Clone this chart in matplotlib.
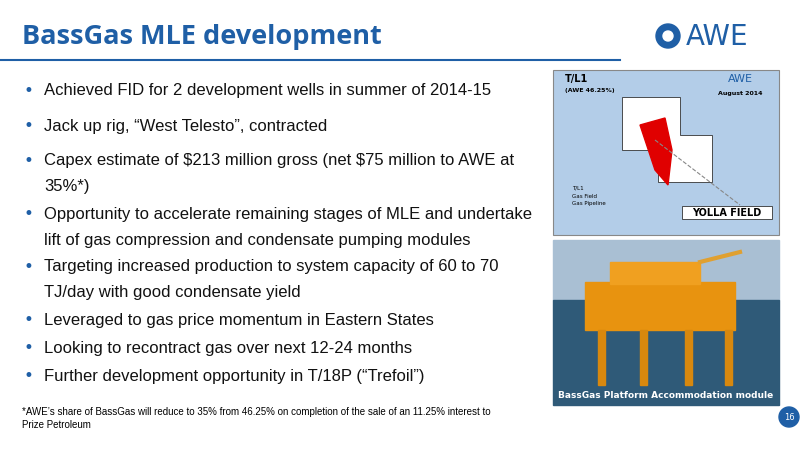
import matplotlib
matplotlib.use("Agg")
import matplotlib.pyplot as plt
from matplotlib.patches import Rectangle, Polygon, Circle

plt.rcParams["text.parse_math"] = False
title = "BassGas MLE development"
bullets = [
    ["Achieved FID for 2 development wells in summer of 2014-15"],
    ["Jack up rig, “West Telesto”, contracted"],
    ["Capex estimate of $213 million gross (net $75 million to AWE at", "35%*)"],
    ["Opportunity to accelerate remaining stages of MLE and undertake", "lift of gas compression and condensate pumping modules"],
    ["Targeting increased production to system capacity of 60 to 70", "TJ/day with good condensate yield"],
    ["Leveraged to gas price momentum in Eastern States"],
    ["Looking to recontract gas over next 12-24 months"],
    ["Further development opportunity in T/18P (“Trefoil”)"],
]
bullet_y = [91, 126, 161, 214, 267, 320, 348, 376]
footnote = ["*AWE’s share of BassGas will reduce to 35% from 46.25% on completion of the sale of an 11.25% interest to",
            "Prize Petroleum"]
page = "16"
blue = "#1f5fa6"

fig = plt.figure(figsize=(8, 4.5), dpi=100)
ax = fig.add_axes([0, 0, 1, 1])
ax.set_xlim(0, 800); ax.set_ylim(450, 0); ax.axis("off")

ax.text(22, 37, title, color=blue, fontsize=19.5, fontweight="bold", va="center", family="Open Sans")
ax.plot([0, 620], [60, 60], color=blue, lw=1.5)
ax.add_patch(Circle((668, 36), 12, color=blue))
ax.add_patch(Circle((668, 36), 5, color="white"))
ax.text(686, 37, "AWE", color=blue, fontsize=20, va="center")

for lines, y in zip(bullets, bullet_y):
    ax.text(24, y, "•", color=blue, fontsize=12, va="center")
    for i, l in enumerate(lines):
        ax.text(44, y + i * 26, l, fontsize=12, va="center", color="#111111", family="Liberation Sans")

for i, l in enumerate(footnote):
    ax.text(22, 412 + i * 13, l, fontsize=7, va="center", family="Liberation Sans")
ax.add_patch(Circle((789, 417), 10, color=blue))
ax.text(789, 417, page, color="white", fontsize=6, ha="center", va="center")

# map panel
ax.add_patch(Rectangle((553, 70), 226, 165, facecolor="#b3cde8", edgecolor="#888888", lw=0.8))
ax.add_patch(Polygon([[622, 97], [680, 97], [680, 135], [712, 135], [712, 182], [658, 182], [658, 150], [622, 150]],
                     facecolor="white", edgecolor="#333333", lw=0.6))
ax.add_patch(Polygon([[640, 125], [665, 118], [672, 150], [668, 185], [655, 170], [645, 140]], color="#e00000"))
ax.plot([655, 740], [140, 205], ls="--", color="#888888", lw=0.8)
ax.text(565, 82, "T/L1", fontsize=7, fontweight="bold")
ax.text(565, 92, "(AWE 46.25%)", fontsize=4.5, fontweight="bold")
ax.text(740, 95, "August 2014", fontsize=4.5, fontweight="bold", ha="center")
ax.text(740, 82, "AWE", fontsize=8, color=blue, ha="center")
ax.add_patch(Rectangle((682, 206), 90, 13, facecolor="white", edgecolor="#333333", lw=0.6))
ax.text(727, 212.5, "YOLLA FIELD", fontsize=7, fontweight="bold", ha="center", va="center")
for i, lab in enumerate(["T/L1", "Gas Field", "Gas Pipeline"]):
    ax.text(572, 188 + i * 8, lab, fontsize=4, va="center")

# photo panel
ax.add_patch(Rectangle((553, 240), 226, 60, color="#a9bfd3"))
ax.add_patch(Rectangle((553, 300), 226, 105, color="#2f5a78"))
ax.add_patch(Rectangle((585, 282), 150, 48, color="#e8930f"))
ax.add_patch(Rectangle((610, 262), 90, 22, color="#f0a020"))
for x in [598, 640, 685, 725]:
    ax.add_patch(Rectangle((x, 330), 7, 55, color="#d8880e"))
ax.plot([700, 740], [262, 252], color="#e0a030", lw=3)
ax.text(666, 396, "BassGas Platform Accommodation module", color="white", fontsize=6.5,
        fontweight="bold", ha="center", va="center")

fig.savefig("out.png", dpi=100)
